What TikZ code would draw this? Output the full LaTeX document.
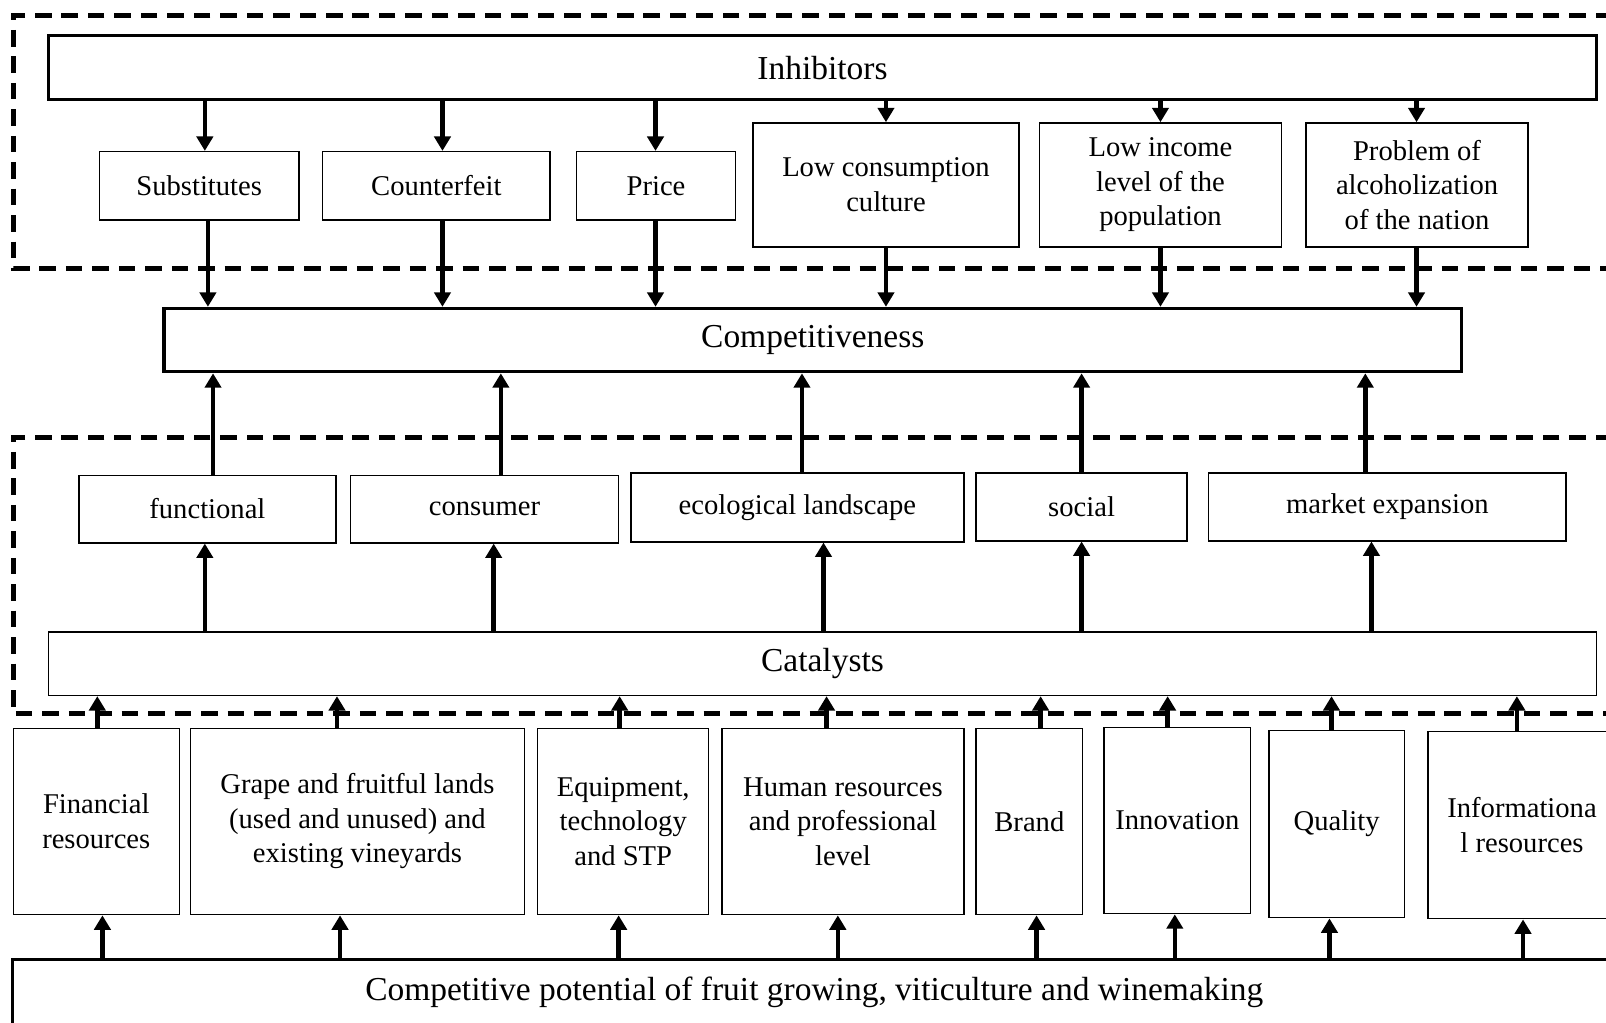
\documentclass[tikz,border=0pt]{standalone}
\usepackage{fontspec}
\setmainfont{Liberation Serif}
\usetikzlibrary{arrows.meta}

\begin{document}
\begin{tikzpicture}[x=0.02cm,y=-0.02cm,
		wide/.style={draw,rectangle,line width=1.7pt,inner sep=0pt,font=\fontsize{18.6}{22}\selectfont},
		factor/.style={draw,rectangle,line width=0.8pt,inner sep=0pt,align=center,font=\fontsize{15.9}{19.2}\selectfont},
		resource/.style={factor,minimum height=3.64cm},
		arr/.style={-{Triangle[length=8pt,width=9pt]},line width=2.5pt},
		frame/.style={line width=2.7pt,dash pattern=on 9.2pt off 5.5pt}]
		\useasboundingbox (0,0) rectangle (1568,998);

		\draw [frame] (1600,15) -- (13,15) -- (13,262) -- (1600,262);
		\draw [frame] (1600,427) -- (13,427) -- (13,697) -- (1600,697);

		\node [wide,minimum width=30.24cm,minimum height=1.24cm] (inh) at (803,66) {Inhibitors};
		\node [factor,minimum width=3.9cm,minimum height=1.34cm] (subst) at (194.5,181.5) {Substitutes};
		\node [factor,minimum width=4.44cm,minimum height=1.34cm] (counterf) at (426,181.5) {Counterfeit};
		\node [factor,minimum width=3.1cm,minimum height=1.34cm] (price) at (640.5,181.5) {Price};
		\node [factor,minimum width=5.2cm,minimum height=2.42cm] (lowcons) at (865,180.5) {Low consumption\\culture};
		\node [factor,minimum width=4.72cm,minimum height=2.42cm] (lowinc) at (1133,180.5) {Low income\\level of the\\population};
		\node [factor,minimum width=4.34cm,minimum height=2.42cm] (alcohol) at (1383.5,180.5) {Problem of\\alcoholization\\of the nation};

		\node [wide,minimum width=25.34cm,minimum height=1.24cm] (compet) at (793.5,332) {Competitiveness};

		\node [factor,minimum width=5.02cm,minimum height=1.32cm] (functional) at (202.5,497) {functional};
		\node [factor,minimum width=5.24cm,minimum height=1.32cm] (consumer) at (473,497) {consumer};
		\node [factor,minimum width=6.5cm,minimum height=1.34cm] (ecolog) at (778.5,495.5) {ecological landscape};
		\node [factor,minimum width=4.12cm,minimum height=1.32cm] (social) at (1056,495) {social};
		\node [factor,minimum width=6.98cm,minimum height=1.32cm] (market) at (1354.5,495) {market expansion};

		\node [wide,line width=0.8pt,minimum width=30.24cm,minimum height=1.24cm] (catal) at (803,648) {Catalysts};

		\node [resource,minimum width=3.24cm] (finance) at (94,802) {Financial\\resources};
		\node [resource,minimum width=6.52cm] (lands) at (349,802) {Grape and fruitful lands\\(used and unused) and\\existing vineyards};
		\node [resource,minimum width=3.34cm] (equip) at (608.5,802) {Equipment,\\technology\\and STP};
		\node [resource,minimum width=4.72cm] (human) at (823,802) {Human resources\\and professional\\level};
		\node [resource,minimum width=2.08cm] (brand) at (1005,802) {Brand};
		\node [resource,minimum width=2.86cm] (innov) at (1149.5,801) {Innovation};
		\node [resource,minimum width=2.64cm,minimum height=3.66cm] (quality) at (1305,804.5) {Quality};
		\node [resource,minimum width=3.68cm,minimum height=3.66cm] (inform) at (1486,805.5) {Informationa\\l resources};

		\node [wide,minimum width=31.32cm,minimum height=1.26cm] (potential) at (795,968.5) {Competitive potential of fruit growing, viticulture and winemaking};

		\foreach \x/\n in {200/subst,432/counterf,640/price,865/lowcons,1133/lowinc,1383/alcohol}
			\draw [arr] (inh.south -| \x,0) -- (\n.north -| \x,0);
		\foreach \x/\n in {203/subst,432/counterf,640/price,865/lowcons,1133/lowinc,1383/alcohol}
			\draw [arr] (\n.south -| \x,0) -- (compet.north -| \x,0);
		\foreach \x/\n in {208/functional,489/consumer,783/ecolog,1056/social,1333/market}
			\draw [arr] (\n.north -| \x,0) -- (compet.south -| \x,0);
		\foreach \x/\n in {200/functional,482/consumer,804/ecolog,1056/social,1339/market}
			\draw [arr] (catal.north -| \x,0) -- (\n.south -| \x,0);
		\foreach \x/\n in {95/finance,329/lands,605/equip,807/human,1016/brand,1140/innov,1300/quality,1481/inform}
			\draw [arr] (\n.north -| \x,0) -- (catal.south -| \x,0);
		\foreach \x/\n in {100/finance,332/lands,604/equip,818/human,1012/brand,1147/innov,1298/quality,1487/inform}
			\draw [arr] (potential.north -| \x,0) -- (\n.south -| \x,0);
	\end{tikzpicture}
\end{document}
